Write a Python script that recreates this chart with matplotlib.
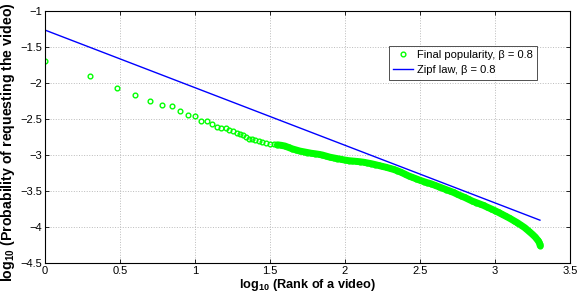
import numpy as np
import matplotlib
matplotlib.use('Agg')
import matplotlib.pyplot as plt
from matplotlib.ticker import FuncFormatter

plt.rcParams['font.family'] = ['Liberation Sans', 'DejaVu Sans']
plt.rcParams['mathtext.fontset'] = 'custom'
plt.rcParams['mathtext.rm'] = 'Liberation Sans'
plt.rcParams['mathtext.bf'] = 'Liberation Sans:bold'

# top ranks, one marker each (rank 1..25)
top_ranks = list(range(1, 26))
top_logp = [-1.69, -1.907, -2.07, -2.167, -2.245, -2.306, -2.324, -2.393, -2.449, -2.454,
            -2.524, -2.524, -2.574, -2.607, -2.62, -2.63, -2.657, -2.667, -2.69, -2.713,
            -2.727, -2.746, -2.774, -2.78, -2.79]

# dense tail (log10 rank, log10 prob)
tail_logr = [1.425, 1.45, 1.475, 1.50, 1.525, 1.55, 1.575, 1.60, 1.625, 1.65, 1.675, 1.70,
             1.725, 1.75, 1.775, 1.80, 1.825, 1.85, 1.875, 1.90, 1.925, 1.95, 1.975, 2.00,
             2.025, 2.05, 2.075, 2.10, 2.125, 2.15, 2.175, 2.20, 2.225, 2.25, 2.275, 2.30,
             2.325, 2.35, 2.375, 2.40, 2.425, 2.45, 2.475, 2.50, 2.525, 2.55, 2.575, 2.60,
             2.625, 2.65, 2.675, 2.70, 2.725, 2.75, 2.775, 2.80, 2.825, 2.85, 2.875, 2.90,
             2.925, 2.95, 2.975, 3.00, 3.025, 3.05, 3.075, 3.10, 3.125, 3.15, 3.175, 3.20,
             3.225, 3.25, 3.27, 3.285, 3.295, 3.30, 3.303]
tail_logp = [-2.80, -2.815, -2.83, -2.843, -2.852, -2.858, -2.865, -2.875, -2.895, -2.915, -2.93, -2.945,
             -2.955, -2.965, -2.975, -2.982, -2.99, -3.00, -3.015, -3.03, -3.04, -3.05, -3.06, -3.07,
             -3.078, -3.083, -3.088, -3.093, -3.10, -3.11, -3.12, -3.132, -3.145, -3.158, -3.17, -3.185,
             -3.20, -3.218, -3.24, -3.265, -3.29, -3.31, -3.33, -3.35, -3.368, -3.385, -3.40, -3.42,
             -3.44, -3.46, -3.48, -3.50, -3.52, -3.545, -3.568, -3.59, -3.615, -3.64, -3.66, -3.68,
             -3.70, -3.725, -3.748, -3.772, -3.798, -3.825, -3.852, -3.88, -3.91, -3.94, -3.975, -4.01,
             -4.055, -4.10, -4.14, -4.18, -4.21, -4.24, -4.26]

# Zipf law straight line endpoints
zipf_logr = [0.0, 3.301]
zipf_logp = [-1.264, -3.905]

green = (0, 1, 0)
fig = plt.figure(figsize=(5.82, 2.99), dpi=100)
ax = fig.add_axes([0.0773, 0.1204, 0.9017, 0.8426])

logr = list(np.log10(top_ranks)) + tail_logr
logp = top_logp + tail_logp
ax.plot(logr, logp, 'o', mfc='none', mec=green, ms=3.4, mew=1.0,
        label='Final popularity, \u03b2 = 0.8')
# overlapping markers in the tail merge into a solid band
ax.plot(tail_logr[5:], tail_logp[5:], '-', color=green, lw=5.0, solid_capstyle='round')
ax.plot(zipf_logr, zipf_logp, '-', color=(0, 0, 1), lw=1.0, label='Zipf law, \u03b2 = 0.8')

ax.set_xlim(0, 3.5)
ax.set_ylim(-4.5, -1)
ax.set_xticks(np.arange(0, 3.51, 0.5))
ax.set_yticks(np.arange(-4.5, -0.99, 0.5))
fmt = FuncFormatter(lambda v, p: ('%g' % v).replace('-', '\u2212'))
ax.xaxis.set_major_formatter(fmt)
ax.yaxis.set_major_formatter(fmt)
ax.tick_params(direction='in', top=True, right=True, labelsize=8, length=3, width=0.6, pad=2)
ax.grid(True, linestyle=':', color='#bbbbbb', lw=0.7)
for s in ax.spines.values():
    s.set_linewidth(0.8)

ax.set_xlabel(r'$\mathbf{log_{10}}$ (Rank of a video)', fontsize=9.2, fontweight='bold', labelpad=1)
ax.set_ylabel(r'$\mathbf{log_{10}}$ (Probability of requesting the video)', fontsize=10.2,
              fontweight='bold')
ax.yaxis.set_label_coords(-0.054, 0.48)

leg = ax.legend(loc='upper left', bbox_to_anchor=(0.655, 0.862), fontsize=8, frameon=True,
                fancybox=False, edgecolor='black', handlelength=1.8, handletextpad=0.3,
                borderpad=0.4, labelspacing=0.45, borderaxespad=0)
leg.get_frame().set_linewidth(0.6)

fig.savefig('out.png', dpi=100)
